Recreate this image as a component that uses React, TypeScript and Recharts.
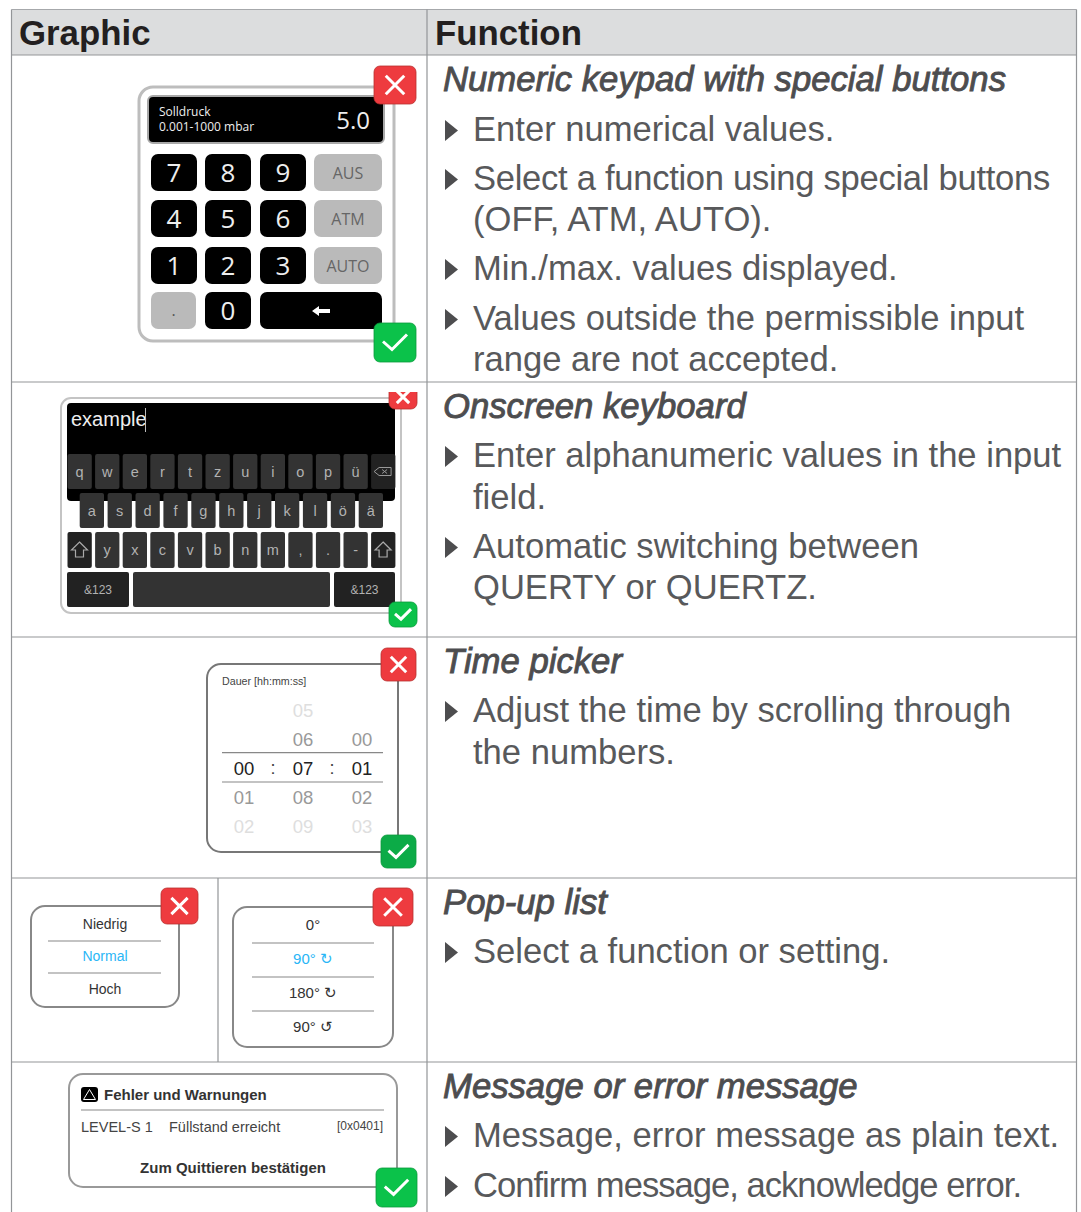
import { ReferenceArea, ReferenceLine, Scatter, ScatterChart, XAxis, YAxis } from "recharts";

const W = 1081;
const H = 1212;
const SANS = "'Liberation Sans', Arial, sans-serif";
const UI = "'Open Sans', sans-serif";

// table text
const headers = ["Graphic", "Function"];
const titles = [
  "Numeric keypad with special buttons",
  "Onscreen keyboard",
  "Time picker",
  "Pop-up list",
  "Message or error message",
];
const bullets = [
  [
    ["Enter numerical values."],
    ["Select a function using special buttons", "(OFF, ATM, AUTO)."],
    ["Min./max. values displayed."],
    ["Values outside the permissible input", "range are not accepted."],
  ],
  [
    ["Enter alphanumeric values in the input", "field."],
    ["Automatic switching between", "QUERTY or QUERTZ."],
  ],
  [["Adjust the time by scrolling through", "the numbers."]],
  [["Select a function or setting."]],
  [["Message, error message as plain text."], ["Confirm message, acknowledge error."]],
];

// widget text
const keypadDigits = [
  ["7", "8", "9"],
  ["4", "5", "6"],
  ["1", "2", "3"],
];
const keypadSpecial = ["AUS", "ATM", "AUTO"];
const keyboardRow1 = ["q", "w", "e", "r", "t", "z", "u", "i", "o", "p", "ü"];
const keyboardRow2 = ["a", "s", "d", "f", "g", "h", "j", "k", "l", "ö", "ä"];
const keyboardRow3 = ["y", "x", "c", "v", "b", "n", "m", ",", ".", "-"];
const timeHours = ["", "", "00", "01", "02"];
const timeMinutes = ["05", "06", "07", "08", "09"];
const timeSeconds = ["", "00", "01", "02", "03"];
const popupLevels = ["Niedrig", "Normal", "Hoch"];
const popupAngles = ["0°", "90° ↻", "180° ↻", "90° ↺"];

type Mark = { x: number; y: number; kind: string; [k: string]: any };
const marks: Mark[] = [];

const box = (x1: number, y1: number, x2: number, y2: number, fill: string, r = 0, stroke = "none", sw = 0) =>
  marks.push({ kind: "box", x: x1, y: y1, w: x2 - x1, h: y2 - y1, fill, r, stroke, sw });
const label = (x: number, y: number, text: string, size: number, fill: string, extra: any = {}) =>
  marks.push({ kind: "text", x, y, text, size, fill, anchor: "start", font: SANS, ...extra });
const rule = (x1: number, y1: number, x2: number, y2: number, stroke: string, sw = 1.2) =>
  marks.push({ kind: "line", x: x1, y: y1, dx: x2 - x1, dy: y2 - y1, stroke, sw });

const closeButton = (x1: number, y1: number, x2: number, y2: number) => {
  box(x1, y1, x2, y2, "#ee3b3f", 6, "#b8302f", 0.8);
  marks.push({ kind: "cross", x: (x1 + x2) / 2, y: (y1 + y2) / 2, s: (x2 - x1) * 0.22 });
};
const okButton = (x1: number, y1: number, x2: number, y2: number, fill = "#0bc24a") => {
  box(x1, y1, x2, y2, fill, 6, "#0a9a3c", 0.8);
  marks.push({ kind: "check", x: (x1 + x2) / 2, y: (y1 + y2) / 2, s: (x2 - x1) / 42 });
};

// right-hand text column
const titleBase = [91, 418, 673, 914, 1098];
const lineBases = [
  [[141], [190, 231], [280], [330, 371]],
  [[467, 509], [558, 599]],
  [[722, 764]],
  [[963]],
  [[1147], [1197]],
];
// the source squeezes a few lines, letter spacing in px
const tightLines: Record<string, number> = {
  "Select a function using special buttons": -0.29,
  "Confirm message, acknowledge error.": -0.98,
};
headers.forEach((h, i) =>
  label(i === 0 ? 19 : 435, 45, h, 34.8, "#231f20", { weight: 700 })
);
titles.forEach((t, i) => {
  label(443, titleBase[i], t, 34.7, "#4d4d4f", { italic: true, outline: 0.9 });
  bullets[i].forEach((b, j) => {
    marks.push({ kind: "tri", x: 445, y: lineBases[i][j][0] });
    b.forEach((line, k) => label(473, lineBases[i][j][k], line, 34.6, "#58595b", { spacing: tightLines[line] }));
  });
});

// keypad
box(139, 87, 394, 341, "#fff", 14, "#bdbdbd", 3);
box(148, 96, 384, 143, "#000", 5, "#a8a8a8", 2);
label(159, 116, "Solldruck", 12, "#eee", { font: UI });
label(159, 131, "0.001-1000 mbar", 12, "#eee", { font: UI });
label(370, 129, "5.0", 24, "#eee", { font: UI, anchor: "end" });
const keyCols = [151, 205, 260];
const keyRows = [154, 200, 247, 292];
keypadDigits.forEach((row, r) =>
  row.forEach((d, c) => {
    box(keyCols[c], keyRows[r], keyCols[c] + 46, keyRows[r] + 37, "#000", 7);
    label(keyCols[c] + 23, keyRows[r] + 28, d, 26, "#eee", { font: UI, anchor: "middle" });
  })
);
keypadSpecial.forEach((s, r) => {
  box(314, keyRows[r], 382, keyRows[r] + 37, "#bababa", 7);
  label(348, keyRows[r] + 25, s, 16, "#666", { font: UI, anchor: "middle" });
});
box(151, 292, 196, 329, "#bababa", 7);
label(173.5, 316, ".", 16, "#555", { font: UI, anchor: "middle" });
box(205, 292, 251, 329, "#000", 7);
label(228, 320, "0", 26, "#eee", { font: UI, anchor: "middle" });
box(260, 292, 382, 329, "#000", 7);
marks.push({ kind: "arrow", x: 321, y: 311 });
closeButton(374, 66, 416, 104);
okButton(374, 323, 416, 362);

// keyboard
box(61, 398, 401, 613, "#fff", 10, "#c4c4c4", 2);
box(67, 403, 395, 501, "#000", 4);
label(71, 426, "example", 20, "#eee");
rule(145.5, 408, 145.5, 432, "#bbb", 1);
const keyX = (i: number) => 67.5 + 27.6 * i;
const letterKey = (x: number, y1: number, y2: number, t: string, base: number) => {
  box(x, y1, x + 24.3, y2, "#333", 2);
  label(x + 12.1, base, t, 14.5, "#b2b2b2", { anchor: "middle" });
};
keyboardRow1.forEach((t, i) => letterKey(keyX(i), 454, 489, t, 477));
box(keyX(11), 454, keyX(11) + 24.3, 489, "#222", 2);
marks.push({ kind: "backspace", x: keyX(11) + 12, y: 471.5 });
keyboardRow2.forEach((t, i) => letterKey(79.7 + 27.9 * i, 493, 528, t, 516));
keyboardRow3.forEach((t, i) => letterKey(keyX(i + 1), 532, 568, t, 555));
[0, 11].forEach((i) => {
  box(keyX(i), 532, keyX(i) + 24.3, 568, "#222", 2);
  marks.push({ kind: "shift", x: keyX(i) + 12, y: 550 });
});
box(67, 572, 129, 607, "#222", 2);
box(133, 572, 330, 607, "#333", 2);
box(334, 572, 395, 607, "#222", 2);
label(98, 594, "&123", 12, "#b2b2b2", { anchor: "middle" });
label(364.5, 594, "&123", 12, "#b2b2b2", { anchor: "middle" });
closeButton(389, 385, 417, 409);
box(385, 383.5, 420, 392, "#fff"); // the button is cut off by the row edge in the source
okButton(389, 602, 417, 627);

// time picker
box(207, 664, 398, 852, "#fff", 14, "#777", 2);
label(222, 685, "Dauer [hh:mm:ss]", 10.7, "#444");
const timeBase = [717, 746, 775, 804, 833];
const timeShade = ["#dedede", "#999", "#222", "#999", "#dedede"];
const timeCols = [
  { x: 244, vals: timeHours },
  { x: 303, vals: timeMinutes },
  { x: 362, vals: timeSeconds },
];
timeCols.forEach((col) =>
  col.vals.forEach((v, i) => {
    if (v) label(col.x, timeBase[i], v, 18.5, timeShade[i], { anchor: "middle" });
  })
);
label(273, 774, ":", 18, "#444", { anchor: "middle" });
label(332, 774, ":", 18, "#444", { anchor: "middle" });
rule(222, 752.7, 383, 752.7, "#888");
rule(222, 782, 383, 782, "#888");
closeButton(381, 648, 416, 681);
okButton(381, 835, 416, 868, "#0cab47");

// pop-up lists
box(31, 906, 179, 1007, "#fff", 14, "#888", 2);
popupLevels.forEach((t, i) =>
  label(105, [929, 961, 994][i], t, 14, i === 1 ? "#29b6f6" : "#333", { anchor: "middle" })
);
rule(48, 941, 161, 941, "#888");
rule(48, 973, 161, 973, "#888");
closeButton(161, 888, 198, 924);
box(233, 907, 393, 1047, "#fff", 14, "#888", 2);
popupAngles.forEach((t, i) =>
  label(313, [930, 964, 998, 1032][i], t, 15, i === 1 ? "#29b6f6" : "#333", { anchor: "middle" })
);
[943, 977, 1011].forEach((y) => rule(252, y, 374, y, "#888"));
closeButton(373, 888, 413, 926);

// message
box(69, 1074, 397, 1187, "#fff", 14, "#999", 2);
box(81, 1087, 98, 1102, "#000", 3);
marks.push({ kind: "warn", x: 89.5, y: 1094.5 });
label(104, 1100, "Fehler und Warnungen", 15, "#333", { weight: 700 });
rule(81, 1110, 384, 1110, "#888");
label(81, 1132, "LEVEL-S 1", 14.5, "#444");
label(169, 1132, "Füllstand erreicht", 14.5, "#444");
label(383, 1130, "[0x0401]", 12, "#444", { anchor: "end" });
label(233, 1173, "Zum Quittieren bestätigen", 15, "#333", { weight: 700, anchor: "middle" });
okButton(376, 1168, 417, 1207);

// draws one mark at the point the chart's scales gave it
function drawMark(props: any) {
  const { cx, cy, payload: m } = props;
  switch (m.kind) {
    case "box":
      return <rect x={cx} y={cy} width={m.w} height={m.h} rx={m.r} fill={m.fill} stroke={m.stroke} strokeWidth={m.sw} />;
    case "text":
      return (
        <text
          x={cx}
          y={cy}
          fontSize={m.size}
          fontFamily={m.font}
          fontWeight={m.weight ?? 400}
          fontStyle={m.italic ? "italic" : "normal"}
          textAnchor={m.anchor}
          letterSpacing={m.spacing}
          fill={m.fill}
          stroke={m.outline ? m.fill : "none"}
          strokeWidth={m.outline ?? 0}
        >
          {m.text}
        </text>
      );
    case "line":
      return <line x1={cx} y1={cy} x2={cx + m.dx} y2={cy + m.dy} stroke={m.stroke} strokeWidth={m.sw} />;
    case "tri":
      return <path d={`M${cx} ${cy - 21}L${cx + 13} ${cy - 10.5}L${cx} ${cy}Z`} fill="#4d4d4f" />;
    case "cross":
      return (
        <path
          d={`M${cx - m.s} ${cy - m.s}L${cx + m.s} ${cy + m.s}M${cx + m.s} ${cy - m.s}L${cx - m.s} ${cy + m.s}`}
          stroke="#fff"
          strokeWidth={3}
          fill="none"
        />
      );
    case "check":
      return (
        <path
          d={`M${cx - 12 * m.s} ${cy - m.s}L${cx - 3 * m.s} ${cy + 7 * m.s}L${cx + 12 * m.s} ${cy - 8 * m.s}`}
          stroke="#fff"
          strokeWidth={3}
          fill="none"
        />
      );
    case "arrow":
      return <path d={`M${cx - 9} ${cy}L${cx - 2} ${cy - 5}V${cy - 2}H${cx + 9}V${cy + 2}H${cx - 2}V${cy + 5}Z`} fill="#fff" />;
    case "backspace":
      return (
        <path
          d={`M${cx - 9} ${cy}L${cx - 4} ${cy - 4}H${cx + 8}V${cy + 4}H${cx - 4}ZM${cx - 1} ${cy - 2}L${cx + 4} ${cy + 2}M${cx + 4} ${cy - 2}L${cx - 1} ${cy + 2}`}
          stroke="#999"
          fill="none"
        />
      );
    case "shift":
      return (
        <path
          d={`M${cx} ${cy - 8}L${cx + 8} ${cy}H${cx + 4}V${cy + 7}H${cx - 4}V${cy}H${cx - 8}Z`}
          stroke="#aaa"
          strokeWidth={1.2}
          fill="none"
        />
      );
    case "warn":
      return <path d={`M${cx} ${cy - 5}L${cx + 6} ${cy + 5}H${cx - 6}Z`} stroke="#fff" fill="none" />;
    default:
      return <g />;
  }
}

export default function App() {
  return (
    <div style={{ position: "absolute", left: 0, top: 0, background: "#fff" }}>
      <ScatterChart width={W} height={H} margin={{ top: 0, right: 0, bottom: 0, left: 0 }}>
        <XAxis type="number" dataKey="x" domain={[0, W]} hide allowDataOverflow />
        <YAxis type="number" dataKey="y" domain={[0, H]} reversed hide allowDataOverflow />
        <ReferenceArea x1={11.5} x2={1076.5} y1={9.5} y2={55} fill="#dcddde" fillOpacity={1} stroke="none" />
        <ReferenceLine segment={[{ x: 11.5, y: 9.5 }, { x: 1076.5, y: 9.5 }]} stroke="#a6a8ab" strokeWidth={1.2} />
        {[55, 382, 637, 878, 1062].map((y) => (
          <ReferenceLine key={y} segment={[{ x: 11.5, y }, { x: 1076.5, y }]} stroke="#939598" strokeWidth={1.2} />
        ))}
        {[11.5, 427, 1076.5].map((x) => (
          <ReferenceLine key={x} segment={[{ x, y: 9.5 }, { x, y: H }]} stroke="#939598" strokeWidth={1.2} />
        ))}
        <ReferenceLine segment={[{ x: 218, y: 878 }, { x: 218, y: 1062 }]} stroke="#939598" strokeWidth={1.2} />
        <Scatter data={marks} shape={drawMark} isAnimationActive={false} />
      </ScatterChart>
    </div>
  );
}
